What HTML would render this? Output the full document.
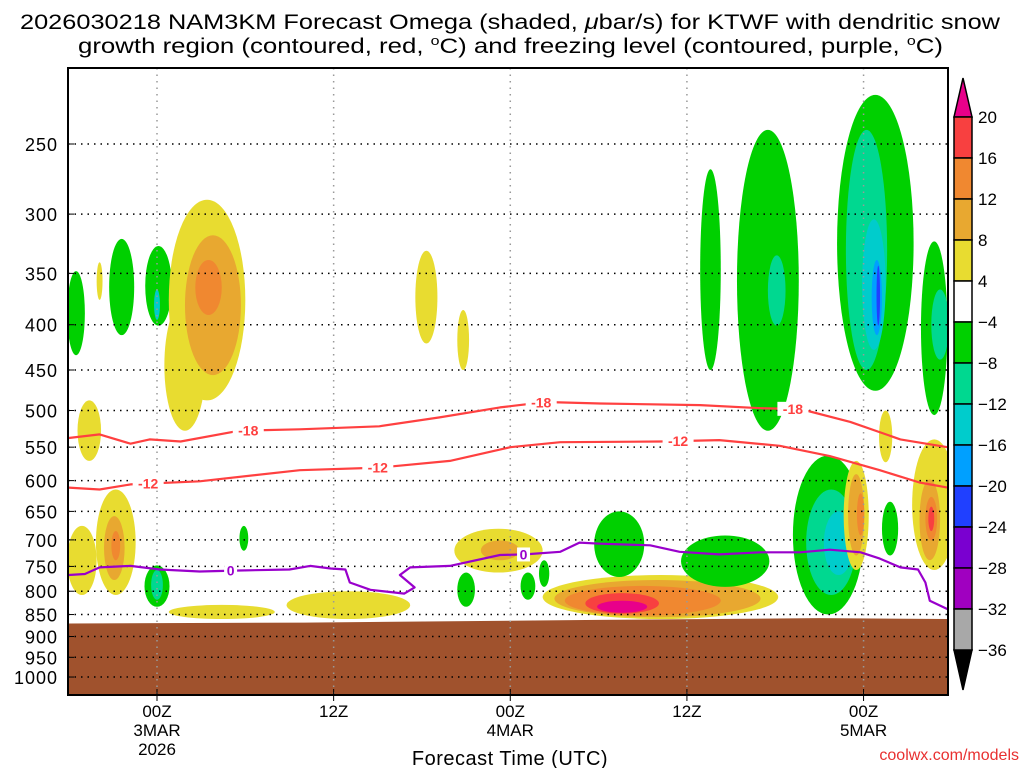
<!DOCTYPE html>
<html><head><meta charset="utf-8"><style>
html,body{margin:0;padding:0;background:#fff;width:1024px;height:768px;overflow:hidden}
svg{display:block;font-family:"Liberation Sans",sans-serif}
</style></head><body>
<svg id="chart" width="1024" height="768" viewBox="0 0 1024 768">
<g font-size="21" text-anchor="start" fill="#000">
<text x="20" y="29" textLength="980" lengthAdjust="spacingAndGlyphs">2026030218 NAM3KM Forecast Omega (shaded, <tspan font-style="italic">μ</tspan>bar/s) for KTWF with dendritic snow</text>
<text x="78" y="53" textLength="865" lengthAdjust="spacingAndGlyphs">growth region (contoured, red, <tspan font-size="13" dy="-8">o</tspan><tspan dy="8">C) and freezing level (contoured, purple, </tspan><tspan font-size="13" dy="-8">o</tspan><tspan dy="8">C)</tspan></text>
</g>
<defs><clipPath id="plotclip"><rect x="68" y="68" width="880" height="627"/></clipPath></defs>
<g id="shading" clip-path="url(#plotclip)"></g>
<g id="ground" clip-path="url(#plotclip)"></g>
<g id="grid"></g>
<g id="contours" clip-path="url(#plotclip)"></g>
<rect x="68" y="68" width="880" height="627" fill="none" stroke="#000" stroke-width="2"/>
<g id="yaxis"></g>
<g id="xaxis"></g>
<text x="510" y="765" font-size="20" text-anchor="middle" letter-spacing="0.5">Forecast Time (UTC)</text>
<text x="1019" y="760" font-size="16" text-anchor="end" fill="#e83030">coolwx.com/models</text>
<g id="colorbar"></g>
</svg>
<script>
const NS='http://www.w3.org/2000/svg';
// axis data
const pressureTicks=[250,300,350,400,450,500,550,600,650,700,750,800,850,900,950,1000];
const timeTicks=[0,12,24,36,48];
const timeLabels=[['00Z','3MAR','2026'],['12Z'],['00Z','4MAR'],['12Z'],['00Z','5MAR']];
// shaded omega features: center hour, half width (h), top p, bottom p, level
const featHour=[-5.5,-2.4,-3.9,0.1,0,3.4,1.9,3.8,3.5,18.3,20.8,37.6,41.5,42.1,48.8,48.2,48.7,48.9,49,52.8,53.2,
 -4.6,-5.1,-2.8,-2.9,-2.8,0,0,5.9,4.4,13,23.2,23.3,21,25.2,26.3,34.2,34.0,33,31.6,31.6,31.4,38.6,45.6,45.8,46.3,47.5,47.5,47.8,49.5,49.8,52.8,52.5,52.6,52.6];
const featHalfW=[0.6,0.85,0.2,0.9,0.2,2.6,1.4,1.9,0.9,0.75,0.4,0.7,2.1,0.6,2.6,1.4,0.8,0.35,0.12,0.9,0.6,
 0.8,1,1.35,0.7,0.3,0.85,0.4,0.3,3.6,4.2,3,1.3,0.6,0.5,0.35,8,7,5.3,2.5,1.7,1.7,3,2.4,1.7,1,0.85,0.55,0.25,0.45,0.55,1.5,0.7,0.4,0.2];
const featPTop=[348,320,340,326,365,289,375,317,338,330,385,267,241,334,220,241,304,338,343,322,365,
 487,675,614,658,684,748,757,675,829,800,680,701,762,762,738,767,777,789,804,820,650,692,562,614,650,570,590,620,500,634,539,598,626,642];
const featPBot=[433,411,375,401,395,487,527,456,390,420,450,450,527,401,475,450,427,411,401,506,438,
 570,808,808,777,738,833,818,720,860,860,762,738,833,818,791,860,856,852,848,846,771,791,850,808,767,757,729,692,572,729,757,738,701,684];
const featLevel=[-1,-1,1,-1,-3,1,1,2,3,1,1,-1,-1,-2,-1,-2,-3,-4,-5,-1,-2,
 1,1,1,2,3,-1,-2,-1,1,1,1,2,-1,-1,-1,1,2,3,4,5,-1,-1,-1,-2,-3,1,2,3,1,-1,1,2,3,4];
// terrain surface pressure
const sfcHour=[-6,10,30,45,53.7];
const sfcP=[870,868,862,858,860];
// -18C isotherm
const m18Hour=[-6,-3.9,-1.8,-0.5,1.6,5.6,9.7,15.1,19.2,23.3,26.4,30.1,36.9,41,43.7,47.1,50.5,53.7];
const m18P=[537,532,545,539,542,527,525,521,509,496,489,491,493,497,498,515,539,550];
// -12C isotherm
const m12Hour=[-6,-3.9,-1.8,2.9,9.7,15.1,19.9,24,27.4,34.2,38.2,42.3,45.7,49.1,51.8,53.7];
const m12P=[611,614,606,601,584,580,570,550,543,542,540,548,563,584,603,611];
// freezing level (0C)
const frzHour=[-6,-4.9,-3.9,-1.8,0.2,2.9,5.6,9,10.4,11.8,12.8,13.1,14.5,16.8,17.5,16.5,17.2,19.9,23.3,25,27.4,28.7,30.1,33.5,35.5,38.2,41,43.7,45.7,47.8,49.1,50.5,51.7,52.2,52.5,53.7];
const frzP=[767,765,752,749,756,760,758,756,749,754,756,782,797,805,792,767,752,749,728,727,722,705,707,710,722,727,723,723,718,723,735,752,756,782,820,838];
const cbLabels=['20','16','12','8','4','-4','-8','-12','-16','-20','-24','-28','-32','-36'];

const X=h=>157+14.72*h;
const Y=p=>144+384.5*Math.log(p/250);
const colors={5:'#e8008a',4:'#f84040',3:'#f08830',2:'#e8a830',1:'#e8dc30','-1':'#00d000','-2':'#00d890','-3':'#00cccc','-4':'#00a0ff','-5':'#2040ff'};
function mk(tag,attrs,parent){const e=document.createElementNS(NS,tag);for(const k in attrs)e.setAttribute(k,attrs[k]);parent.appendChild(e);return e;}

const sh=document.getElementById('shading');
for(let i=0;i<featHour.length;i++){
 const cx=X(featHour[i]),rx=featHalfW[i]*14.72,y1=Y(featPTop[i]),y2=Y(featPBot[i]);
 const e=mk('ellipse',{cx:cx,cy:(y1+y2)/2,rx:rx,ry:(y2-y1)/2,fill:colors[featLevel[i]]},sh);
 
 
}
// terrain
const gr=document.getElementById('ground');
let gd='M'+X(sfcHour[0]-1)+','+Y(sfcP[0]);
for(let i=0;i<sfcHour.length;i++)gd+=' L'+X(sfcHour[i])+','+Y(sfcP[i]);
gd+=' L'+X(sfcHour[sfcHour.length-1]+1)+','+Y(sfcP[sfcP.length-1])+' L960,700 L60,700 Z';
const gp=mk('path',{d:gd,fill:'#a0522d'},gr);



// grid
const g=document.getElementById('grid');
pressureTicks.forEach(p=>{const l=mk('line',{x1:68,x2:948,y1:Y(p),y2:Y(p),stroke:'#000','stroke-width':1.5,'stroke-dasharray':'1.5,5'},g);
 
 });
timeTicks.forEach(t=>{const l=mk('line',{x1:X(t),x2:X(t),y1:68,y2:695,stroke:'#999','stroke-width':1.5,'stroke-dasharray':'1.5,5'},g);
 
 });

// y axis
const ya=document.getElementById('yaxis');
pressureTicks.forEach(p=>{const t=mk('text',{x:58,y:Y(p)+7,'font-size':18,'text-anchor':'end','letter-spacing':1},ya);t.textContent=p;
 
 
 mk('line',{x1:68,x2:74,y1:Y(p),y2:Y(p),stroke:'#000'},ya);});
// x axis
const xa=document.getElementById('xaxis');
timeTicks.forEach((t,i)=>{mk('line',{x1:X(t),x2:X(t),y1:689,y2:701,stroke:'#000'},xa);
 timeLabels[i].forEach((s,j)=>{const tx=mk('text',{x:X(t),y:717+j*19,'font-size':17,'text-anchor':'middle'},xa);tx.textContent=s;
 
 });});

// contours
const ct=document.getElementById('contours');
function line(hs,ps,col,name){let d='';for(let i=0;i<hs.length;i++)d+=(i?' L':'M')+X(hs[i]).toFixed(1)+','+Y(ps[i]).toFixed(1);
 const p=mk('path',{d:d,fill:'none',stroke:col,'stroke-width':2.2,'stroke-linejoin':'round'},ct);
 
 }
function label(h,hs,ps,txt,col){let k=0;while(k<hs.length-2&&hs[k+1]<h)k++;
 const f=(h-hs[k])/(hs[k+1]-hs[k]);const p=ps[k]+f*(ps[k+1]-ps[k]);
 const w=txt.length*9+4;
 mk('rect',{x:X(h)-w/2,y:Y(p)-7,width:w,height:14,fill:'#fff'},ct);
 const t=mk('text',{x:X(h),y:Y(p)+5,'font-size':14,'font-weight':'bold','text-anchor':'middle',fill:col},ct);t.textContent=txt;
 
 }
line(m18Hour,m18P,'#ff4040','isotherm-minus18');
line(m12Hour,m12P,'#ff4040','isotherm-minus12');
line(frzHour,frzP,'#9900cc','freezing-level');
label(6.2,m18Hour,m18P,'-18','#ff4040');label(26.1,m18Hour,m18P,'-18','#ff4040');label(43.2,m18Hour,m18P,'-18','#ff4040');
label(-0.6,m12Hour,m12P,'-12','#ff4040');label(15.0,m12Hour,m12P,'-12','#ff4040');label(35.4,m12Hour,m12P,'-12','#ff4040');
label(5,frzHour.slice(0,10),frzP.slice(0,10),'0','#9900cc');label(24.9,frzHour.slice(16),frzP.slice(16),'0','#9900cc');

// colorbar
const cb=document.getElementById('colorbar');
const cbCols=['#f84040','#f08830','#e8a830','#e8dc30','#ffffff','#00d000','#00d890','#00cccc','#00a0ff','#2040ff','#7a00d0','#a000c0','#a8a8a8'];
mk('polygon',{points:'954,117 972,117 963,78',fill:'#e8008a',stroke:'#000','stroke-width':1.5},cb);
mk('polygon',{points:'954,650 972,650 963,690',fill:'#000',stroke:'#000','stroke-width':1.5},cb);
cbCols.forEach((c,i)=>{const r=mk('rect',{x:954,y:117+i*41,width:18,height:41,fill:c,stroke:'#000','stroke-width':1.5},cb);
 
 });
cbLabels.forEach((s,i)=>{const t=mk('text',{x:978,y:117+i*41+6,'font-size':17},cb);t.textContent=s.replace('-','−');
 
 });
</script>
</body></html>
